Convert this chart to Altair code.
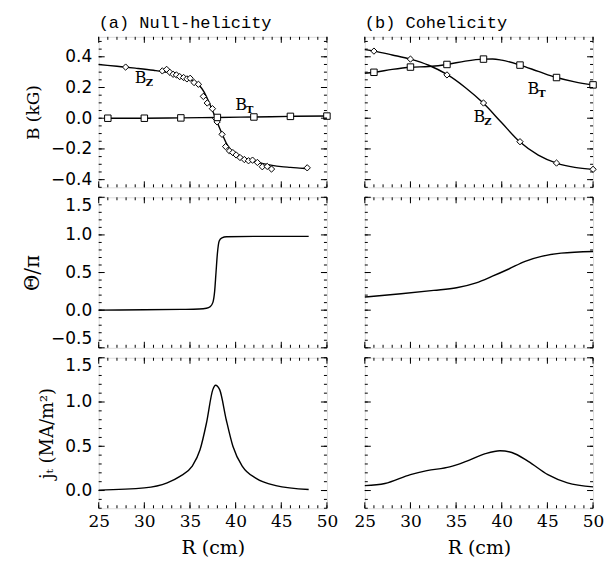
import altair as alt
import pandas as pd

W, H = 229, 151

# ---------------- data ----------------
# (a) top: B_z fit curve, B_z measurements, B_T
bz_a_curve_R = [25.0, 27.0, 29.0, 31.0, 33.0, 34.0, 35.0, 35.5, 36.0, 36.5, 37.0, 37.5, 38.0, 38.5,
                39.0, 39.5, 40.0, 40.5, 41.0, 42.0, 43.0, 44.0, 45.0, 46.0, 47.0, 47.8]
bz_a_curve_v = [0.35, 0.338, 0.326, 0.312, 0.292, 0.276, 0.252, 0.238, 0.215, 0.175, 0.115, 0.045,
                -0.03, -0.10, -0.165, -0.208, -0.235, -0.25, -0.262, -0.28, -0.296, -0.307, -0.315,
                -0.32, -0.325, -0.328]
bz_a_pts_R = [27.95, 31.97, 32.44, 32.79, 33.15, 33.51, 33.87, 34.30, 34.66, 35.02, 35.45, 35.92,
              36.46, 36.89, 37.46, 37.82, 37.97, 38.51, 38.90, 39.33, 39.69, 40.05, 40.48, 40.95,
              41.41, 41.85, 42.38, 42.92, 43.46, 43.93, 47.84]
bz_a_pts_v = [0.333, 0.308, 0.318, 0.299, 0.286, 0.282, 0.271, 0.265, 0.256, 0.260, 0.232, 0.221,
              0.142, 0.099, 0.062, -0.002, -0.024, -0.105, -0.185, -0.213, -0.224, -0.239, -0.256,
              -0.269, -0.277, -0.273, -0.288, -0.316, -0.314, -0.331, -0.323]
bt_a_R = [26, 30, 34, 38, 42, 46, 50]
bt_a_v = [0.0, 0.0, 0.002, 0.005, 0.008, 0.012, 0.014]

# (b) top
bz_b_curve_R = [25, 26, 28, 30, 32, 34, 36, 38, 40, 42, 44, 46, 48, 50]
bz_b_curve_v = [0.447, 0.437, 0.412, 0.385, 0.345, 0.285, 0.20, 0.097, -0.03, -0.155, -0.24,
                -0.292, -0.32, -0.333]
bz_b_pts_R = [26, 30, 34, 38, 42, 46, 50]
bz_b_pts_v = [0.437, 0.385, 0.282, 0.099, -0.153, -0.292, -0.333]
bt_b_curve_R = [25, 26, 28, 30, 32, 34, 36, 38, 39, 40, 42, 44, 46, 48, 50]
bt_b_curve_v = [0.293, 0.299, 0.318, 0.332, 0.337, 0.35, 0.372, 0.385, 0.386, 0.378, 0.346,
                0.305, 0.265, 0.237, 0.217]
bt_b_pts_R = [26, 30, 34, 38, 42, 46, 50]
bt_b_pts_v = [0.299, 0.333, 0.350, 0.385, 0.346, 0.265, 0.217]

# annotation labels (B with subscript)
ann_a_R = [29.6, 40.6]
ann_a_v = [0.26, 0.088]
ann_a_sub = ["Z", "T"]
ann_b_R = [43.45, 37.55]
ann_b_v = [0.19, 0.006]
ann_b_sub = ["T", "Z"]

# (a) middle: Theta/pi
th_a_R = [25, 30, 34, 36, 36.8, 37.2, 37.5, 37.7, 37.85, 38.0, 38.2, 38.5, 39, 42, 48]
th_a_v = [0.0, 0.005, 0.01, 0.015, 0.025, 0.045, 0.1, 0.25, 0.5, 0.75, 0.92, 0.96, 0.975, 0.98, 0.98]
# (b) middle
th_b_R = [25.0, 28.97, 32.55, 35.05, 37.2, 38.98, 40.77, 42.56, 44.35, 46.5, 50.0]
th_b_v = [0.175, 0.219, 0.263, 0.298, 0.363, 0.451, 0.547, 0.649, 0.714, 0.758, 0.78]

# (a) bottom: j_T
j_a_R = [25, 30.0, 32.5, 33.9, 35.2, 36.1, 36.8, 37.5, 37.8, 38.25, 38.97, 39.7, 40.76, 42.2, 44.4, 48.0]
j_a_v = [0.005, 0.03, 0.087, 0.16, 0.27, 0.46, 0.76, 1.14, 1.19, 1.14, 0.8, 0.5, 0.27, 0.14, 0.056, 0.011]
# (b) bottom
j_b_R = [25.0, 27.2, 30.0, 31.8, 34.3, 36.1, 38.2, 39.8, 41.1, 42.9, 45.05, 47.2, 50.0]
j_b_v = [0.055, 0.079, 0.18, 0.225, 0.267, 0.33, 0.417, 0.45, 0.43, 0.33, 0.18, 0.087, 0.042]

x_major = [25, 30, 35, 40, 45, 50]
x_minor = list(range(25, 51))
yB_major = [-0.4, -0.2, 0.0, 0.2, 0.4]
yB_minor = [round(-0.45 + 0.05 * i, 2) for i in range(20)]
yT_major = [-0.5, 0.0, 0.5, 1.0, 1.5]
yT_minor = [round(-0.5 + 0.1 * i, 1) for i in range(21)]
yJ_major = [0.0, 0.5, 1.0, 1.5]
yJ_minor = [round(-0.2 + 0.1 * i, 1) for i in range(18)]

domB = [-0.45, 0.53]
domT = [-0.5, 1.5]
domJ = [-0.2, 1.5]

SERIF = "DejaVu Serif"
SANS = "DejaVu Sans"


def xscale():
    return alt.Scale(domain=[25, 50], nice=False, zero=False)


def yscale(dom):
    return alt.Scale(domain=dom, nice=False, zero=False)


class P:
    """Per-panel encoding helper: same scales and axes in every layer."""

    def __init__(self, dom, xaxis, yaxis):
        self.dom = dom
        self.xaxis = xaxis
        self.yaxis = yaxis

    def X(self, f):
        return alt.X(f, scale=xscale(), axis=self.xaxis)

    def Y(self, f):
        return alt.Y(f, scale=yscale(self.dom), axis=self.yaxis)

    def line(self, R, v):
        df = pd.DataFrame({"R": R, "v": v})
        return alt.Chart(df).mark_line(color="black", strokeWidth=1.4,
                                       interpolate="monotone").encode(
            x=self.X("R:Q"), y=self.Y("v:Q"))

    def points(self, R, v, shape, size):
        df = pd.DataFrame({"R": R, "v": v})
        return alt.Chart(df).mark_point(shape=shape, size=size, filled=True, fill="white",
                                        stroke="black", strokeWidth=1, opacity=1).encode(
            x=self.X("R:Q"), y=self.Y("v:Q"))

    def labels(self, R, v, sub):
        df = pd.DataFrame({"R": R, "v": v, "b": ["B"] * len(R), "s": sub})
        base = alt.Chart(df).encode(x=self.X("R:Q"), y=self.Y("v:Q"))
        main = base.mark_text(font=SERIF, fontSize=16, color="black", align="center",
                              baseline="middle").encode(text="b:N")
        subs = base.mark_text(font=SERIF, fontSize=10, color="black", align="left",
                              baseline="middle", dx=5, dy=5, fontWeight="bold").encode(text="s:N")
        return [main, subs]

    def ticks(self, ymaj, ymin):
        out = []
        for vals, L in [(x_minor, 3), (x_major, 6)]:
            df = pd.DataFrame({"R": vals})
            b = alt.Chart(df).mark_rule(color="black", strokeWidth=1)
            out.append(b.encode(x=self.X("R:Q"), y=alt.value(H - L), y2=alt.value(H)))
            out.append(b.encode(x=self.X("R:Q"), y=alt.value(0), y2=alt.value(L)))
        for vals, L in [(ymin, 3), (ymaj, 6)]:
            df = pd.DataFrame({"v": vals})
            b = alt.Chart(df).mark_rule(color="black", strokeWidth=1)
            out.append(b.encode(y=self.Y("v:Q"), x=alt.value(0), x2=alt.value(L)))
            out.append(b.encode(y=self.Y("v:Q"), x=alt.value(W - L), x2=alt.value(W)))
        return out


def yaxis(vals, title, tsize=17):
    return alt.Axis(values=vals, format=".1f", ticks=False, domain=False, grid=False,
                    labelFont=SANS, labelFontSize=17, labelColor="black", labelPadding=7,
                    labelFlush=True, labelOverlap=False,
                    title=title, titleFont=SERIF, titleFontSize=tsize, titleFontWeight="normal",
                    titleColor="black", titlePadding=8)


xaxis_bottom = alt.Axis(values=x_major, format="d", ticks=False, domain=False, grid=False,
                        labelFont=SERIF, labelFontSize=17, labelColor="black", labelPadding=5,
                        labelFlush=False, labelOverlap=False,
                        title="R (cm)", titleFont=SERIF, titleFontSize=19,
                        titleFontWeight="normal", titleColor="black", titlePadding=9)


def title(t):
    return alt.TitleParams(text=t, anchor="start", frame="group", font="Liberation Mono",
                           fontSize=17, fontWeight="normal", color="black", offset=4)


# (a) top
a1 = P(domB, None, yaxis(yB_major, "B (kG)"))
pa1 = alt.layer(
    a1.line(bz_a_curve_R, bz_a_curve_v),
    a1.line(bt_a_R, bt_a_v),
    a1.points(bz_a_pts_R, bz_a_pts_v, "diamond", 40),
    a1.points(bt_a_R, bt_a_v, "square", 42),
    *a1.labels(ann_a_R, ann_a_v, ann_a_sub),
    *a1.ticks(yB_major, yB_minor),
).properties(width=W, height=H, title=title("(a) Null-helicity"))

# (b) top
b1 = P(domB, None, None)
pb1 = alt.layer(
    b1.line(bz_b_curve_R, bz_b_curve_v),
    b1.line(bt_b_curve_R, bt_b_curve_v),
    b1.points(bz_b_pts_R, bz_b_pts_v, "diamond", 40),
    b1.points(bt_b_pts_R, bt_b_pts_v, "square", 42),
    *b1.labels(ann_b_R, ann_b_v, ann_b_sub),
    *b1.ticks(yB_major, yB_minor),
).properties(width=W, height=H, title=title("(b) Cohelicity"))

# middle
a2 = P(domT, None, yaxis(yT_major, "Θ/π", 20))
pa2 = alt.layer(a2.line(th_a_R, th_a_v), *a2.ticks(yT_major, yT_minor)).properties(width=W, height=H)
b2 = P(domT, None, None)
pb2 = alt.layer(b2.line(th_b_R, th_b_v), *b2.ticks(yT_major, yT_minor)).properties(width=W, height=H)

# bottom
a3 = P(domJ, xaxis_bottom, yaxis(yJ_major, "jₜ (MA/m²)", 18))
pa3 = alt.layer(a3.line(j_a_R, j_a_v), *a3.ticks(yJ_major, yJ_minor)).properties(width=W, height=H)
b3 = P(domJ, xaxis_bottom, None)
pb3 = alt.layer(b3.line(j_b_R, j_b_v), *b3.ticks(yJ_major, yJ_minor)).properties(width=W, height=H)

chart = alt.concat(pa1, pb1, pa2, pb2, pa3, pb3, columns=2, bounds="flush",
                   spacing={"row": 10, "column": 38}).configure_view(
    stroke="black", strokeWidth=1.6
).configure(background="white", padding={"left": 14, "top": 5, "right": 0, "bottom": 0})

chart.save("out.html", embed_options={"renderer": "svg", "actions": False})
